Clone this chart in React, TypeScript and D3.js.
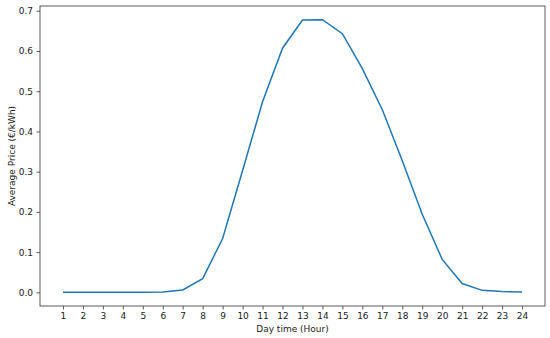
import React, { useEffect, useRef } from 'react';
import * as d3 from 'd3';

// hours of the day and the average price per hour (€/kWh)
const hours = [1, 2, 3, 4, 5, 6, 7, 8, 9, 10, 11, 12, 13, 14, 15, 16, 17, 18, 19, 20, 21, 22, 23, 24];
const prices = [0.0, 0.0, 0.0, 0.0, 0.0, 0.001, 0.006, 0.034, 0.134, 0.303, 0.474, 0.607, 0.677, 0.678, 0.643, 0.556, 0.454, 0.327, 0.194, 0.082, 0.022, 0.005, 0.002, 0.001];
const yTicks = [0.0, 0.1, 0.2, 0.3, 0.4, 0.5, 0.6, 0.7];

const App = () => {
  const chartRef = useRef<SVGSVGElement | null>(null);

  useEffect(() => {
    if (chartRef.current) {
      drawChart();
    }
  }, []);

  const drawChart = () => {
    const svg = d3.select(chartRef.current);
    svg.selectAll('*').remove();

    const width = 550;
    const height = 338;
    const left = 40, right = 545, top = 6, bottom = 306;
    const font = 'DejaVu Sans, sans-serif';
    const fontSize = 9;

    svg.attr('width', width).attr('height', height);

    svg.append('rect').attr('width', width).attr('height', height).attr('fill', '#fff');

    // matplotlib style 5% margins
    const xSpan = d3.max(hours)! - d3.min(hours)!;
    const xScale = d3.scaleLinear()
      .domain([d3.min(hours)! - xSpan * 0.05, d3.max(hours)! + xSpan * 0.05])
      .range([left, right]);

    const yMax = d3.max(prices)!;
    const yScale = d3.scaleLinear()
      .domain([-yMax * 0.05, yMax * 1.05])
      .range([bottom, top]);

    // x axis
    const xAxis = svg.append('g')
      .attr('transform', `translate(0,${bottom})`)
      .call(d3.axisBottom(xScale).tickValues(hours).tickFormat(d3.format('d')).tickSize(3.5).tickPadding(3.5));
    xAxis.select('.domain').remove();

    // y axis
    const yAxis = svg.append('g')
      .attr('transform', `translate(${left},0)`)
      .call(d3.axisLeft(yScale).tickValues(yTicks).tickFormat(d3.format('.1f')).tickSize(3.5).tickPadding(3.5));
    yAxis.select('.domain').remove();

    svg.selectAll('.tick text')
      .attr('font-family', font)
      .attr('font-size', fontSize)
      .attr('fill', '#222');
    svg.selectAll('.tick line').attr('stroke', '#333').attr('stroke-width', 0.8);

    // frame
    svg.append('rect')
      .attr('x', left)
      .attr('y', top)
      .attr('width', right - left)
      .attr('height', bottom - top)
      .attr('fill', 'none')
      .attr('stroke', '#333')
      .attr('stroke-width', 0.8);

    const line = d3.line<number>()
      .x((d, i) => xScale(hours[i]))
      .y(d => yScale(d));

    svg.append('path')
      .datum(prices)
      .attr('d', line)
      .attr('stroke', '#1f77b4')
      .attr('stroke-width', 1.5)
      .attr('fill', 'none');

    // axis labels
    svg.append('text')
      .attr('x', (left + right) / 2)
      .attr('y', 332)
      .attr('text-anchor', 'middle')
      .attr('font-family', font)
      .attr('font-size', fontSize)
      .attr('fill', '#222')
      .text('Day time (Hour)');

    svg.append('text')
      .attr('transform', `translate(15,${(top + bottom) / 2}) rotate(-90)`)
      .attr('text-anchor', 'middle')
      .attr('font-family', font)
      .attr('font-size', fontSize)
      .attr('fill', '#222')
      .text('Average Price (€/kWh)');
  };

  return (
    <svg ref={chartRef} style={{ position: 'absolute', left: 0, top: 0 }}></svg>
  );
};

export default App;
